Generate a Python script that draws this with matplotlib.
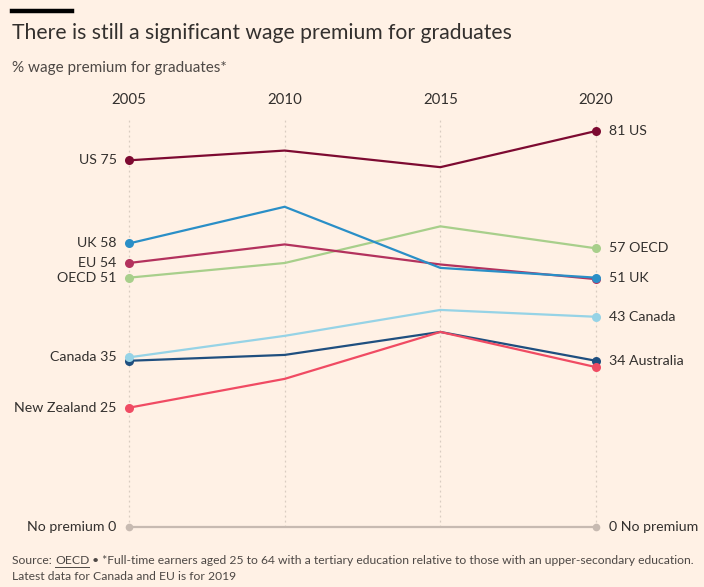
import matplotlib.pyplot as plt

# data
years = [2005, 2010, 2015, 2020]
us = [75, 77, 73.6, 81]
uk = [58, 65.5, 53, 51]
eu = [54, 57.8, 53.7, 50.7]
oecd = [51, 54, 61.5, 57]
canada = [34.7, 39.1, 44.4, 43]
australia = [34, 35.2, 39.9, 34]
new_zealand = [24.4, 30.3, 39.9, 32.7]
no_premium = [0, 0, 0, 0]

left_labels = {'US': 'US 75', 'UK': 'UK 58', 'EU': 'EU 54', 'OECD': 'OECD 51',
               'Canada': 'Canada 35', 'New Zealand': 'New Zealand 25',
               'No premium': 'No premium 0'}
right_labels = {'US': '81 US', 'OECD': '57 OECD', 'UK': '51 UK', 'Canada': '43 Canada',
                'Australia': '34 Australia', 'No premium': '0 No premium'}

bg = '#FFF1E5'
txt = '#33302E'
plt.rcParams['font.family'] = ['Lato', 'DejaVu Sans']

fig = plt.figure(figsize=(7.04, 5.87), dpi=100, facecolor=bg)
W, H = 704, 587
ax = fig.add_axes([129 / W, (H - 527) / H, (596 - 129) / W, (527 - 131) / H])
ax.set_facecolor(bg)
ax.set_xlim(2005, 2020)
ax.set_ylim(0, 81)
ax.axis('off')

# dotted vertical guides
for yr in years:
    ax.plot([yr, yr], [0, 83.2], color='#D9CCC1', lw=0.9, ls=(0, (1.5, 2.5)),
            clip_on=False, zorder=1)

# draw order: later on top
series = [
    ('No premium', no_premium, '#C7BAB1'),
    ('OECD', oecd, '#A8CF8B'),
    ('EU', eu, '#B3325D'),
    ('UK', uk, '#2A8FC7'),
    ('US', us, '#7D0A31'),
    ('Australia', australia, '#1F4F7F'),
    ('New Zealand', new_zealand, '#F04B63'),
    ('Canada', canada, '#96D3E6'),
]

for name, vals, col in series:
    ax.plot(years, vals, color=col, lw=1.6, clip_on=False, zorder=3,
            solid_joinstyle='miter')
    ax.plot([years[0], years[-1]], [vals[0], vals[-1]], 'o', color=col,
            ms=6.5 if name != 'No premium' else 5.5, clip_on=False, zorder=4,
            markeredgewidth=0)
    if name in left_labels:
        ax.annotate(left_labels[name], (years[0], vals[0]), xytext=(-9, 0),
                    textcoords='offset points', ha='right', va='center',
                    fontsize=10.2, color=txt)
    if name in right_labels:
        ax.annotate(right_labels[name], (years[-1], vals[-1]), xytext=(9, 0),
                    textcoords='offset points', ha='left', va='center',
                    fontsize=10.2, color=txt)

for yr in years:
    ax.text(yr, 87.3, str(yr), ha='center', va='center', fontsize=10.8, color=txt)

# header
fig.add_artist(plt.Line2D([12 / W, 72 / W], [1 - 11 / H, 1 - 11 / H], color='black', lw=3.2))
fig.text(12 / W, 1 - 33 / H, 'There is still a significant wage premium for graduates',
         fontsize=15.2, color=txt, va='center')
fig.text(12 / W, 1 - 68 / H, '% wage premium for graduates*', fontsize=11,
         color='#4D4845', va='center')

# footer with underlined source
fs = 8.75
s1 = fig.text(12 / W, 1 - 561 / H, 'Source: ', fontsize=fs, color='#4D4845', va='center')
fig.canvas.draw()
r = fig.canvas.get_renderer()
bb = s1.get_window_extent(r)
s2 = fig.text(bb.x1 / W, 1 - 561 / H, 'OECD', fontsize=fs, color='#4D4845', va='center')
bb2 = s2.get_window_extent(r)
fig.add_artist(plt.Line2D([bb2.x0 / W, bb2.x1 / W], [(bb2.y0 - 0.5) / H] * 2,
                          color='#4D4845', lw=0.7))
fig.text(bb2.x1 / W, 1 - 561 / H,
         ' \u2022 *Full-time earners aged 25 to 64 with a tertiary education relative to those with an upper-secondary education.',
         fontsize=fs, color='#4D4845', va='center')
fig.text(12 / W, 1 - 577 / H, 'Latest data for Canada and EU is for 2019', fontsize=fs,
         color='#4D4845', va='center')

fig.savefig('out.png', dpi=100, facecolor=bg)
